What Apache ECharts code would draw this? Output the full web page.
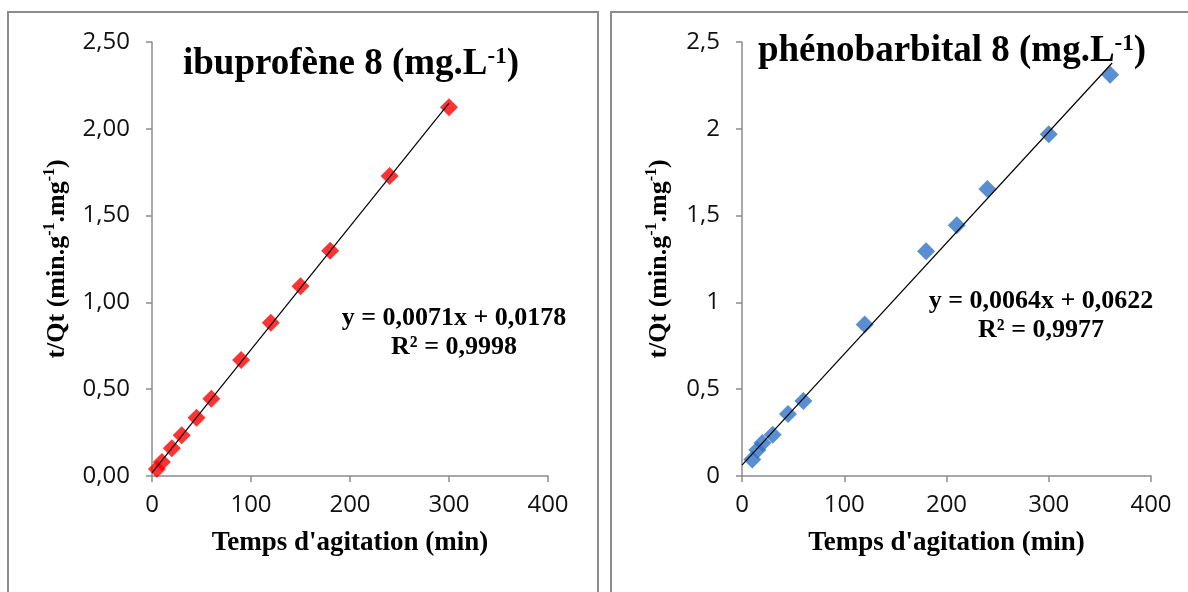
<!DOCTYPE html>
<html>
<head>
<meta charset="utf-8">
<script src="https://cdn.jsdelivr.net/npm/echarts@6/dist/echarts.min.js"></script>
<style>
html,body{margin:0;padding:0;background:#fff;}
#chart{width:1188px;height:592px;}
</style>
</head>
<body>
<div id="chart"></div>
<script>
// ---- data ----
const ibuTime = [5, 10, 20, 30, 45, 60, 90, 120, 150, 180, 240, 300];
const ibuRatio = [0.04, 0.08, 0.16, 0.235, 0.335, 0.445, 0.668, 0.883, 1.093, 1.298, 1.728, 2.124];
const phenoTime = [10, 15, 20, 30, 45, 60, 120, 180, 210, 240, 300, 360];
const phenoRatio = [0.095, 0.15, 0.19, 0.238, 0.357, 0.432, 0.872, 1.294, 1.444, 1.653, 1.968, 2.312];
const ibuFit = {slope: 0.0071, intercept: 0.0178, xRange: [0, 300]};
const phenoFit = {slope: 0.0064, intercept: 0.0622, xRange: [0, 362]};
const xTicks = [0, 100, 200, 300, 400];
const ibuYTickLabels = ['0,00', '0,50', '1,00', '1,50', '2,00', '2,50'];
const phenoYTickLabels = ['0', '0,5', '1', '1,5', '2', '2,5'];
const ibuTitle = 'ibuprofène 8 (mg.L';
const phenoTitle = 'phénobarbital 8 (mg.L';
const ibuEq = ['y = 0,0071x + 0,0178', 'R² = 0,9998'];
const phenoEq = ['y = 0,0064x + 0,0622', 'R² = 0,9977'];
const xName = "Temps d'agitation (min)";

const chart = echarts.init(document.getElementById('chart'));
const serif = '"Liberation Serif","Times New Roman",serif';
const sans = '"Open Sans","Liberation Sans",sans-serif';

function fitLine(f) {
  return f.xRange.map(x => [x, f.slope * x + f.intercept]);
}
function xAxisCfg(gi) {
  return {
    gridIndex: gi, type: 'value', min: 0, max: 400, interval: 100,
    name: xName, nameLocation: 'middle', nameGap: 54,
    nameTextStyle: {fontFamily: serif, fontWeight: 'bold', fontSize: 27, color: '#000'},
    axisLine: {show: true, lineStyle: {color: '#8c8c8c', width: 1.5}},
    axisTick: {show: true, inside: false, length: 6, lineStyle: {color: '#8c8c8c', width: 1.5}},
    axisLabel: {fontFamily: sans, fontSize: 24, color: '#111', margin: 17,
      formatter: v => xTicks.includes(v) ? String(v) : ''},
    splitLine: {show: false}
  };
}
function yAxisCfg(gi, labels, gap) {
  return {
    gridIndex: gi, type: 'value', min: 0, max: 2.5, interval: 0.5,
    name: 't/Qt (min.g{sup|-1}.mg{sup|-1})', nameLocation: 'middle', nameRotate: 90, nameGap: gap,
    nameTextStyle: {fontFamily: serif, fontWeight: 'bold', fontSize: 26, color: '#000', lineHeight: 30,
      rich: {sup: {fontFamily: serif, fontWeight: 'bold', fontSize: 16, verticalAlign: 'top', lineHeight: 30, color: '#000'}}},
    axisLine: {show: true, lineStyle: {color: '#8c8c8c', width: 1.5}},
    axisTick: {show: true, inside: false, length: 6, lineStyle: {color: '#8c8c8c', width: 1.5}},
    axisLabel: {fontFamily: sans, fontSize: 24, color: '#111', margin: 22,
      formatter: v => labels[Math.round(v / 0.5)]},
    splitLine: {show: false}
  };
}
function titleText(x, y, txt) {
  return {
    type: 'text', x: x, y: y,
    style: {
      text: txt + '{sup|-1})', textAlign: 'center', textVerticalAlign: 'middle',
      font: 'bold 37px ' + serif, fill: '#000',
      rich: {sup: {font: 'bold 23px ' + serif, fill: '#000', verticalAlign: 'top', padding: [0, 0, 14, 0]}}
    }
  };
}
function eqText(x, y, lines) {
  return {
    type: 'text', x: x, y: y,
    style: {text: lines.join('\n'), textAlign: 'center', textVerticalAlign: 'top',
      font: 'bold 26px ' + serif, fill: '#000', lineHeight: 29}
  };
}

const option = {
  backgroundColor: '#fff',
  animation: false,
  grid: [
    {left: 152, top: 42, width: 396, height: 434},
    {left: 742, top: 42, width: 409, height: 434}
  ],
  xAxis: [xAxisCfg(0), xAxisCfg(1)],
  yAxis: [yAxisCfg(0, ibuYTickLabels, 80), yAxisCfg(1, phenoYTickLabels, 68)],
  series: [
    {type: 'scatter', xAxisIndex: 0, yAxisIndex: 0, symbol: 'diamond', symbolSize: 18,
      itemStyle: {color: '#ff0000'}, data: ibuTime.map((t, i) => [t, ibuRatio[i]])},
    {type: 'line', xAxisIndex: 0, yAxisIndex: 0, showSymbol: false, symbol: 'none',
      lineStyle: {color: '#000', width: 1.2}, data: fitLine(ibuFit)},
    {type: 'scatter', xAxisIndex: 1, yAxisIndex: 1, symbol: 'diamond', symbolSize: 18,
      itemStyle: {color: '#2f73c4'}, data: phenoTime.map((t, i) => [t, phenoRatio[i]])},
    {type: 'line', xAxisIndex: 1, yAxisIndex: 1, showSymbol: false, symbol: 'none',
      lineStyle: {color: '#000', width: 1.2}, data: fitLine(phenoFit)}
  ],
  graphic: [
    {type: 'rect', shape: {x: 8, y: 12, width: 590, height: 600}, style: {fill: 'none', stroke: '#8c8c8c', lineWidth: 2}, silent: true, z: -1},
    {type: 'rect', shape: {x: 611, y: 12, width: 600, height: 600}, style: {fill: 'none', stroke: '#8c8c8c', lineWidth: 2}, silent: true, z: -1},
    titleText(351, 64, ibuTitle),
    titleText(952, 51, phenoTitle),
    eqText(454, 304, ibuEq),
    eqText(1041, 287, phenoEq)
  ]
};
chart.setOption(option);
</script>
</body>
</html>
